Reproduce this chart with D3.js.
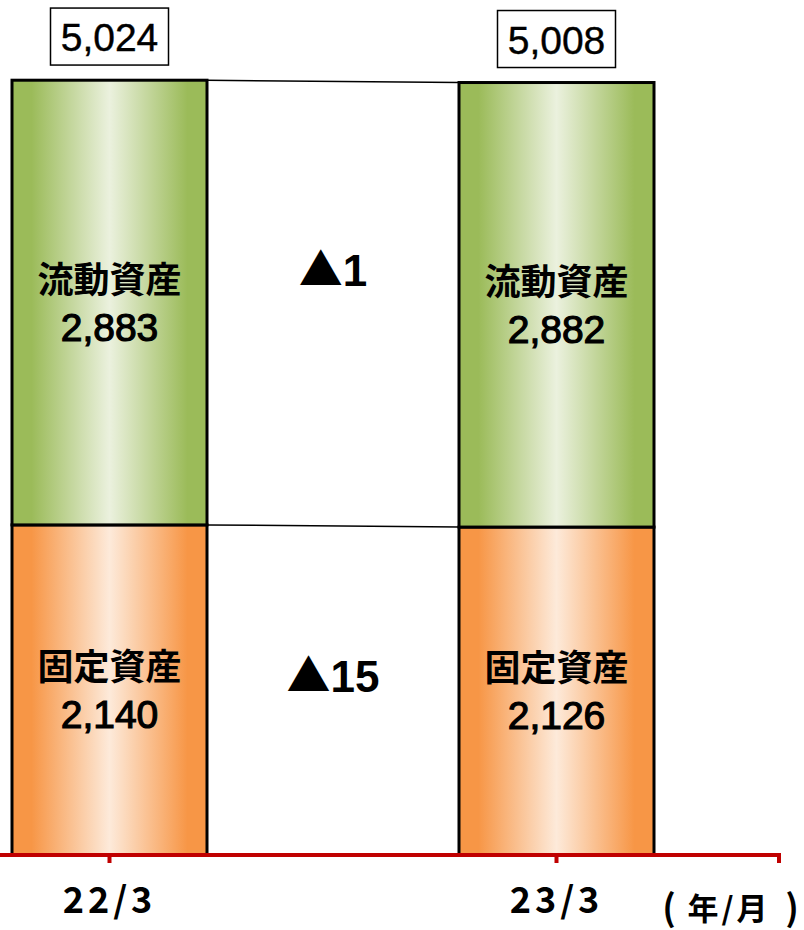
<!DOCTYPE html>
<html><head><meta charset="utf-8">
<script src="https://cdn.jsdelivr.net/npm/d3@7"></script>
<style>html,body{margin:0;padding:0;background:#fff;}svg{display:block;}</style>
</head><body>
<script>
const categories = ["22/3", "23/3"];
const segmentNames = ["固定資産", "流動資産"];
const fixedAssets = [2140, 2126];
const currentAssets = [2883, 2882];
const totals = [5024, 5008];
const deltaValues = ["15", "1"]; // decreases: fixed, current
const unitLabel = ["（", "年/月", "）"];

const W = 804, H = 930;
const svg = d3.select("body").append("svg").attr("width", W).attr("height", H);
const defs = svg.append("defs");
function grad(id, edge, mid) {
  const g = defs.append("linearGradient").attr("id", id).attr("x1", "0%").attr("x2", "100%").attr("y1", "0%").attr("y2", "0%");
  g.append("stop").attr("offset", "0%").attr("stop-color", edge);
  g.append("stop").attr("offset", "10%").attr("stop-color", edge);
  g.append("stop").attr("offset", "50%").attr("stop-color", mid);
  g.append("stop").attr("offset", "90%").attr("stop-color", edge);
  g.append("stop").attr("offset", "100%").attr("stop-color", edge);
}
grad("gGreen", "#9bbb59", "#ebf1de");
grad("gOrange", "#f79646", "#fdeada");

const x = d3.scalePoint().domain(categories).range([109.5, 556.5]);
const y = d3.scaleLinear().domain([0, 5543]).range([855, 0]);
const barW = 195;

const data = categories.map((c, i) => ({
  cat: c,
  segs: [
    {name: segmentNames[0], v0: 0, v1: fixedAssets[i], val: fixedAssets[i], fill: "url(#gOrange)"},
    {name: segmentNames[1], v0: fixedAssets[i], v1: fixedAssets[i] + currentAssets[i], val: currentAssets[i], fill: "url(#gGreen)"}
  ],
  total: totals[i]
}));

const g = svg.append("g");
// connector lines
[0, 1].forEach(k => {
  const v0 = data[0].segs[k].v1;
  const v1 = data[1].segs[k].v1;
  g.append("line")
    .attr("x1", x(categories[0]) + barW / 2).attr("y1", y(v0))
    .attr("x2", x(categories[1]) - barW / 2).attr("y2", y(v1))
    .attr("stroke", "#000").attr("stroke-width", 1.5);
});

// bars
data.forEach(d => {
  d.segs.forEach(s => {
    g.append("rect")
      .attr("x", x(d.cat) - barW / 2).attr("y", y(s.v1))
      .attr("width", barW).attr("height", y(s.v0) - y(s.v1))
      .attr("fill", s.fill).attr("stroke", "#000").attr("stroke-width", 3);
    const mid = (y(s.v0) + y(s.v1)) / 2;
    g.append("text").attr("x", x(d.cat)).attr("y", mid - 10)
      .attr("text-anchor", "middle")
      .attr("font-family", "'Noto Sans CJK JP', sans-serif").attr("font-weight", "bold")
      .attr("font-size", 36).text(s.name);
    g.append("text").attr("x", x(d.cat)).attr("y", mid + 38)
      .attr("text-anchor", "middle")
      .attr("font-family", "'Liberation Sans', Arial, sans-serif")
      .attr("font-size", 39).attr("stroke", "#000").attr("stroke-width", 1.2)
      .text(d3.format(",")(s.val));
  });
  // total label box
  const ty = y(d.total);
  g.append("rect").attr("x", x(d.cat) - 59).attr("y", ty - 72)
    .attr("width", 118).attr("height", 57)
    .attr("fill", "#fff").attr("stroke", "#000").attr("stroke-width", 1.5);
  g.append("text").attr("x", x(d.cat)).attr("y", ty - 29)
    .attr("text-anchor", "middle")
    .attr("font-family", "'Liberation Sans', Arial, sans-serif")
    .attr("font-size", 39).attr("stroke", "#000").attr("stroke-width", 0.4)
    .text(d3.format(",")(d.total));
});

// delta labels
const midX = (x(categories[0]) + x(categories[1])) / 2;
const yFixMid = (y(0) + y(fixedAssets[0])) / 2;
const yCurMid = (y(fixedAssets[0]) + y(totals[0])) / 2;
[[deltaValues[0], yFixMid + 2], [deltaValues[1], yCurMid - 16]].forEach(([t, yy]) => {
  const tx = g.append("text").attr("x", midX).attr("y", yy)
    .attr("text-anchor", "middle")
    .attr("font-family", "'Liberation Sans', Arial, sans-serif").attr("font-weight", "bold")
    .attr("font-size", 44);
  tx.append("tspan").attr("font-family", "'Noto Sans CJK JP', sans-serif").attr("font-size", 44).text("▲");
  tx.append("tspan").text(t);
});

// x axis
const axisY = y(0);
const axisColor = "#c00000";
g.append("line").attr("x1", 0).attr("x2", 781).attr("y1", axisY).attr("y2", axisY)
  .attr("stroke", axisColor).attr("stroke-width", 4);
categories.map(c => x(c)).concat([779]).forEach(tx => {
  g.append("line").attr("x1", tx).attr("x2", tx).attr("y1", axisY).attr("y2", axisY + 8)
    .attr("stroke", axisColor).attr("stroke-width", 4);
});
categories.forEach(c => {
  g.append("text").attr("x", x(c)).attr("y", 913)
    .attr("text-anchor", "middle")
    .attr("font-family", "'Noto Sans CJK JP', sans-serif").attr("font-weight", "bold")
    .attr("font-size", 36).attr("letter-spacing", 4).text(c);
});
// unit label
g.append("text").attr("x", 669).attr("y", 921).attr("text-anchor", "middle")
  .attr("font-family", "'Noto Sans CJK JP', sans-serif").attr("font-weight", "bold")
  .attr("font-size", 36).text("(");
g.append("text").attr("x", 729).attr("y", 920).attr("text-anchor", "middle")
  .attr("font-family", "'Noto Sans CJK JP', sans-serif").attr("font-weight", "bold")
  .attr("font-size", 31).attr("letter-spacing", 3).text(unitLabel[1]);
g.append("text").attr("x", 792).attr("y", 921).attr("text-anchor", "middle")
  .attr("font-family", "'Noto Sans CJK JP', sans-serif").attr("font-weight", "bold")
  .attr("font-size", 36).text(")");
</script>
</body></html>
